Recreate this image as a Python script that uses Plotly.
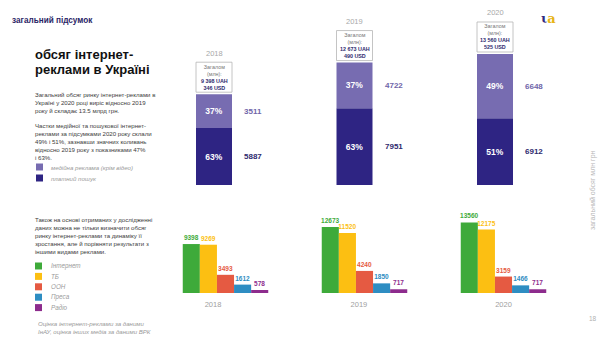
import plotly.graph_objects as go

# ---- data -------------------------------------------------------------
years = ["2018", "2019", "2020"]
display_ads = [3511, 4722, 6648]        # медійна реклама (крім відео)
paid_search = [5887, 7951, 6912]        # платний пошук
total_usd = [346, 490, 525]

media_names = ["Інтернет", "ТБ", "ООН", "Преса", "Радіо"]
media_values = {
    "Інтернет": [9398, 12673, 13560],
    "ТБ": [9269, 11520, 12175],
    "ООН": [3493, 4240, 3159],
    "Преса": [1612, 1850, 1466],
    "Радіо": [578, 717, 717],
}

# ---- styles -----------------------------------------------------------
FONT = "Liberation Sans"
NAVY = "#2e2483"
LILAC = "#776cb1"
media_colors = ["#3eaa3a", "#fcbf12", "#e55a42", "#2e8dc2", "#8d2c8d"]
GREY_TXT = "#9a9a9a"
BODY = "#3c3c3c"

W, H = 615, 340
xs = list(range(len(years)))
totals = [a + b for a, b in zip(display_ads, paid_search)]

fig = go.Figure()

# ---- stacked bars: share of display vs. search ------------------------
bw_top = 36 / 140.5
pct_search = [round(100 * s / t) for s, t in zip(paid_search, totals)]
pct_display = [round(100 * d / t) for d, t in zip(display_ads, totals)]

fig.add_trace(go.Bar(
    x=xs, y=paid_search, base=[0] * 3, width=bw_top,
    marker=dict(color=NAVY, line=dict(width=0)),
    text=[f"{p}%" for p in pct_search], textposition="inside",
    insidetextanchor="middle", constraintext="none",
    textfont=dict(family=FONT, size=8.5, color="white", weight="bold"),
    xaxis="x", yaxis="y", showlegend=False, hoverinfo="skip",
))
fig.add_trace(go.Bar(
    x=xs, y=display_ads, base=paid_search, width=bw_top,
    marker=dict(color=LILAC, line=dict(width=0)),
    text=[f"{p}%" for p in pct_display], textposition="inside",
    insidetextanchor="middle", constraintext="none",
    textfont=dict(family=FONT, size=8.5, color="white", weight="bold"),
    xaxis="x", yaxis="y", showlegend=False, hoverinfo="skip",
))

annotations = []
shapes = []

for i in xs:
    # absolute values next to each segment
    annotations.append(dict(
        x=i + bw_top / 2, y=paid_search[i] / 2, xref="x", yref="y",
        xshift=10, xanchor="left", yanchor="middle", showarrow=False,
        text=f"<b>{paid_search[i]}</b>",
        font=dict(family=FONT, size=8, color="#2e2a6e")))
    annotations.append(dict(
        x=i + bw_top / 2, y=paid_search[i] + display_ads[i] / 2,
        xref="x", yref="y", xshift=10, xanchor="left", yanchor="middle",
        showarrow=False, text=f"<b>{display_ads[i]}</b>",
        font=dict(family=FONT, size=8, color="#6f65a9")))
    # total box on top of each bar
    shapes.append(dict(
        type="rect", xref="x", yref="y", ysizemode="pixel",
        yanchor=totals[i], x0=i - bw_top / 2, x1=i + bw_top / 2,
        y0=2, y1=32, line=dict(color="#b5b5b5", width=0.8),
        fillcolor="white"))
    uah = f"{totals[i]:,}".replace(",", " ")
    annotations.append(dict(
        x=i, y=totals[i], xref="x", yref="y", yshift=17,
        xanchor="center", yanchor="middle", showarrow=False,
        text=(f"<span style='color:#777'>Загалом<br>(млн):</span><br>"
              f"<b>{uah} UAH</b><br><b>{total_usd[i]} USD</b>"),
        font=dict(family=FONT, size=5.4, color="#2e2a6e")))
    annotations.append(dict(
        x=i, y=totals[i], xref="x", yref="y", yshift=41,
        xanchor="center", yanchor="middle", showarrow=False,
        text=years[i], font=dict(family=FONT, size=7.5, color="#a8a8a8")))

# ---- grouped bars: media comparison ------------------------------------
bw = 17.1 / 139
for k, name in enumerate(media_names):
    fig.add_trace(go.Bar(
        x=xs, y=media_values[name], width=bw, offset=(k - 2.5) * bw,
        marker=dict(color=media_colors[k], line=dict(width=0)),
        text=[str(v) for v in media_values[name]], textposition="outside",
        constraintext="none", cliponaxis=False,
        textfont=dict(family=FONT, size=6.5, color=media_colors[k],
                      weight="bold"),
        xaxis="x2", yaxis="y2", showlegend=False, hoverinfo="skip",
    ))

# ---- text blocks -------------------------------------------------------
annotations += [
    dict(x=10 / W, y=1 - 20 / H, xref="paper", yref="paper",
         xanchor="left", yanchor="middle", showarrow=False,
         text="<b>загальний підсумок</b>",
         font=dict(family=FONT, size=8.2, color="#2a2566")),
    dict(x=33 / W, y=1 - 55 / H, xref="paper", yref="paper",
         xanchor="left", yanchor="middle", showarrow=False,
         text="<b>обсяг інтернет-</b>",
         font=dict(family=FONT, size=13, color="#111")),
    dict(x=33 / W, y=1 - 70 / H, xref="paper", yref="paper",
         xanchor="left", yanchor="middle", showarrow=False,
         text="<b>реклами в Україні</b>",
         font=dict(family=FONT, size=13, color="#111")),
    dict(x=33 / W, y=1 - 89 / H, xref="paper", yref="paper",
         xanchor="left", yanchor="top", align="left", showarrow=False,
         text=("Загальний обсяг ринку інтернет-реклами в<br>"
               "Україні у 2020 році виріс відносно 2019<br>"
               "року й складає 13.5 млрд грн."),
         font=dict(family=FONT, size=6.1, color=BODY)),
    dict(x=33 / W, y=1 - 120 / H, xref="paper", yref="paper",
         xanchor="left", yanchor="top", align="left", showarrow=False,
         text=("Частки медійної та пошукової інтернет-<br>"
               "реклами за підсумками 2020 року склали<br>"
               "49% і 51%, зазнавши значних коливань<br>"
               "відносно 2019 року з показниками 47%<br>"
               "і 63%."),
         font=dict(family=FONT, size=6.1, color=BODY)),
    dict(x=33 / W, y=1 - 214 / H, xref="paper", yref="paper",
         xanchor="left", yanchor="top", align="left", showarrow=False,
         text=("Також на основі отриманих у дослідженні<br>"
               "даних можна не тільки визначити обсяг<br>"
               "ринку інтернет-реклами та динаміку її<br>"
               "зростання, але й порівняти результати з<br>"
               "іншими видами реклами."),
         font=dict(family=FONT, size=6.1, color=BODY)),
    dict(x=36 / W, y=1 - 318 / H, xref="paper", yref="paper",
         xanchor="left", yanchor="top", align="left", showarrow=False,
         text=("<i>Оцінка інтернет-реклами за даними<br>"
               "IнАУ, оцінка інших медіа за даними ВРК</i>"),
         font=dict(family=FONT, size=6.1, color=GREY_TXT)),
    dict(x=593 / W, y=1 - 190 / H, xref="paper", yref="paper",
         xanchor="center", yanchor="middle", showarrow=False, textangle=-90,
         text="загальний обсяг млн грн",
         font=dict(family=FONT, size=7, color="#b5b5b5")),
    dict(x=593 / W, y=1 - 318 / H, xref="paper", yref="paper",
         xanchor="center", yanchor="middle", showarrow=False,
         text="18", font=dict(family=FONT, size=6.5, color="#b0b0b0")),
    dict(x=548 / W, y=1 - 18 / H, xref="paper", yref="paper",
         xanchor="center", yanchor="middle", showarrow=False,
         text=("<b><span style='color:#2e2a80'>ι</span>"
               "<span style='color:#e7b416'>a</span></b>"),
         font=dict(family="DejaVu Serif", size=13)),
]

# legend for the share chart
share_legend = [(LILAC, "медійна реклама (крім відео)"), (NAVY, "платний пошук")]
for j, (c, lbl) in enumerate(share_legend):
    yc = 167 + j * 11
    shapes.append(dict(type="rect", xref="paper", yref="paper",
                       x0=36 / W, x1=43 / W, y0=1 - (yc + 3.5) / H,
                       y1=1 - (yc - 3.5) / H, fillcolor=c, line=dict(width=0)))
    annotations.append(dict(x=49 / W, y=1 - yc / H, xref="paper",
                            yref="paper", xanchor="left", yanchor="middle",
                            showarrow=False, text=f"<i>{lbl}</i>",
                            font=dict(family=FONT, size=6.1, color=GREY_TXT)))

# legend for the media chart
for j, (c, lbl) in enumerate(zip(media_colors, media_names)):
    yc = 266 + j * 10.4
    shapes.append(dict(type="rect", xref="paper", yref="paper",
                       x0=35 / W, x1=42 / W, y0=1 - (yc + 3.5) / H,
                       y1=1 - (yc - 3.5) / H, fillcolor=c, line=dict(width=0)))
    annotations.append(dict(x=49 / W, y=1 - yc / H, xref="paper",
                            yref="paper", xanchor="left", yanchor="middle",
                            showarrow=False, text=f"<i>{lbl}</i>",
                            font=dict(family=FONT, size=6.3, color=GREY_TXT)))

hidden = dict(showgrid=False, zeroline=False, showticklabels=False,
              showline=False, ticks="", fixedrange=True)

fig.update_layout(
    width=W, height=H, margin=dict(l=0, r=0, t=0, b=0),
    paper_bgcolor="white", plot_bgcolor="rgba(0,0,0,0)",
    barmode="overlay", showlegend=False,
    font=dict(family=FONT),
    xaxis=dict(domain=[0, 1], range=[-214 / 140.5, (W - 214) / 140.5],
               **hidden),
    yaxis=dict(domain=[155 / H, 1], range=[0, 185 * 103.5], **hidden),
    xaxis2=dict(domain=[0, 1], range=[-225.5 / 139, (W - 225.5) / 139],
                anchor="y2", showgrid=False, zeroline=False, showline=False,
                ticks="", tickmode="array", tickangle=0,
                tickvals=[-0.09, 0.96, 2.0], ticktext=years,
                ticklabelstandoff=5,
                tickfont=dict(family=FONT, size=7.5, color="#a0a0a0"),
                fixedrange=True),
    yaxis2=dict(domain=[47 / H, 1], range=[0, 293 * 192], anchor="x2",
                **hidden),
    annotations=annotations,
    shapes=shapes,
)

fig.write_html("out.html")
